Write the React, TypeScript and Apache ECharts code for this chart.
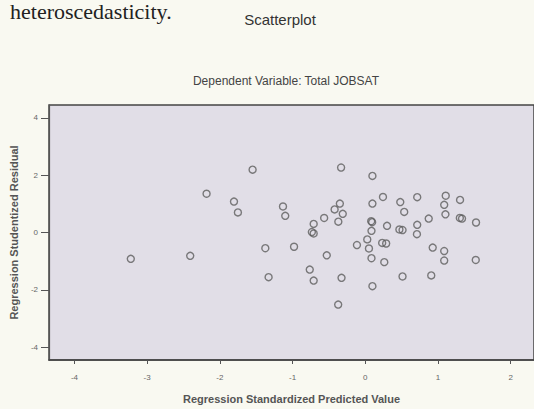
import React, { useEffect, useRef } from "react";
import * as echarts from "echarts";

const xTicks = [-4, -3, -2, -1, 0, 1, 2];
const yTicks = [-4, -2, 0, 2, 4];

const predicted = [
  -3.225, -2.408, -2.183, -1.55, -1.806, -1.752, -1.375, -1.33, -1.132, -1.101,
  -0.98, -0.764, -0.71, -0.735, -0.71, -0.71, -0.566, -0.53, -0.422, -0.35,
  -0.31, -0.371, -0.333, -0.327, -0.373, -0.115, 0.027, 0.05, 0.085, 0.098,
  0.085, 0.081, 0.094, 0.098, 0.098, 0.243, 0.299, 0.232, 0.287, 0.261,
  0.481, 0.535, 0.469, 0.512, 0.512, 0.714, 0.714, 0.71, 0.872, 0.927,
  1.085, 1.085, 0.907, 1.106, 1.085, 1.102, 1.303, 1.3, 1.33, 1.523, 1.519,
];
const residual = [
  -0.918, -0.815, 1.353, 2.192, 1.079, 0.702, -0.548, -1.558, 0.908, 0.582,
  -0.497, -1.295, 0.301, 0.017, -0.034, -1.678, 0.507, -0.798, 0.805, 1.01,
  0.651, 0.377, 2.267, -1.582, -2.517, -0.438, -0.24, -0.558, -0.897, -1.873,
  0.058, 0.394, 0.36, 1.01, 1.976, 1.24, 0.233, -0.363, -0.384, -1.034,
  1.062, 0.719, 0.106, 0.086, -1.534, 1.233, 0.267, -0.058, 0.486, -0.527,
  -0.647, -0.979, -1.497, 1.284, 0.966, 0.634, 1.137, 0.507, 0.486, 0.349, -0.959,
];

export default function App() {
  const ref = useRef<HTMLDivElement>(null);
  useEffect(() => {
    document.body.style.margin = "0";
    const chart = echarts.init(ref.current!, null, { renderer: "svg" });
    const points = predicted.map((x, i) => [x, residual[i]]);
    chart.setOption({
      animation: false,
      backgroundColor: "#f9f9f1",
      textStyle: { fontFamily: "Liberation Sans, Arial, sans-serif" },
      title: [
        {
          text: "Scatterplot",
          left: 275,
          top: 7,
          textAlign: "center",
          textStyle: { fontSize: 15, fontWeight: "normal", color: "#333" },
        },
        {
          text: "Dependent Variable: Total JOBSAT",
          left: 281,
          top: 70,
          textAlign: "center",
          textStyle: { fontSize: 12, fontWeight: "normal", color: "#444" },
        },
      ],
      graphic: [
        {
          type: "text",
          left: 10,
          top: 0,
          style: {
            text: "heteroscedasticity.",
            font: "22px 'Liberation Serif', serif",
            fill: "#222",
          },
        },
      ],
      grid: {
        left: 49,
        top: 105,
        right: -10,
        bottom: 44,
        show: true,
        backgroundColor: "#e1dee7",
        borderColor: "#444",
        borderWidth: 1.5,
      },
      xAxis: {
        type: "value",
        min: -4.35,
        max: 2.32,
        name: "Regression Standardized Predicted Value",
        nameLocation: "middle",
        nameGap: 33,
        nameTextStyle: { fontSize: 11, fontWeight: "bold", color: "#555" },
        splitLine: { show: false },
        axisLine: { show: true, onZero: false, lineStyle: { color: "#444", width: 1.5 } },
        axisTick: { show: true, length: 4, customValues: xTicks, lineStyle: { color: "#555" } },
        axisLabel: { customValues: xTicks, fontSize: 8, color: "#666", margin: 13 },
      },
      yAxis: {
        type: "value",
        min: -4.45,
        max: 4.45,
        name: "Regression Studentized Residual",
        nameLocation: "middle",
        nameGap: 25,
        nameTextStyle: { fontSize: 11, fontWeight: "bold", color: "#555" },
        splitLine: { show: false },
        axisLine: { show: true, onZero: false, lineStyle: { color: "#555", width: 1.2 } },
        axisTick: { show: true, length: 8, customValues: yTicks, lineStyle: { color: "#555" } },
        axisLabel: { customValues: yTicks, fontSize: 8, color: "#666", margin: 11 },
      },
      series: [
        {
          type: "scatter",
          data: points,
          symbol: "circle",
          symbolSize: 7,
          itemStyle: { color: "transparent", borderColor: "#5e5e5e", borderWidth: 1.4 },
        },
      ],
    });
    return () => chart.dispose();
  }, []);
  return <div ref={ref} style={{ width: 534, height: 409 }} />;
}
